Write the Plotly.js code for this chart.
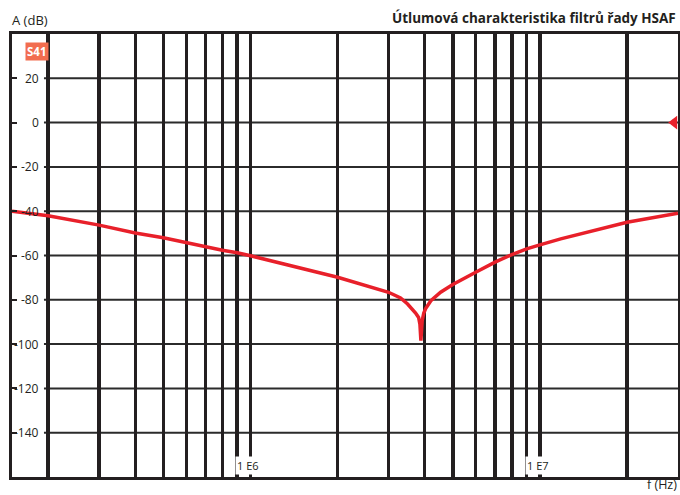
<!DOCTYPE html>
<html>
<head>
<meta charset="utf-8">
<script src="https://cdn.plot.ly/plotly-3.0.1.min.js"></script>
<style>html,body{margin:0;padding:0;background:#fff;}#chart{width:680px;height:495px;}</style>
</head>
<body>
<div id="chart"></div>
<script>
// Frequency (Hz) and attenuation (dB)
var freq = [1.5e5, 2e5, 3e5, 4e5, 5e5, 6e5, 7e5, 8e5, 9e5, 1e6, 2e6, 3e6, 3.3e6, 3.49e6, 3.72e6, 3.81e6, 3.85e6, 3.88e6, 3.92e6, 3.97e6, 4.03e6, 4.2e6, 4.54e6, 5e6, 6e6, 7e6, 8e6, 9e6, 1e7, 1.18e7, 2e7, 3e7];
var atten = [-40, -42.1, -46.3, -49.8, -52, -54.3, -56, -57.6, -58.8, -60.1, -69.8, -76.6, -79.2, -81.9, -86, -88, -91, -98.4, -89.4, -86, -84, -80.4, -76.6, -73.1, -67.6, -63, -59.6, -57, -55.2, -52.5, -45, -40.9];

var yTickVals = [20, 0, -20, -40, -60, -80, -100, -120, -140];
var yTickText = ["20", "0", "-20", "-40", "-60", "-80", "-100", "-120", "-140"];
var xGridVals = [2e5, 3e5, 4e5, 5e5, 6e5, 7e5, 8e5, 9e5, 1e6, 2e6, 3e6, 4e6, 5e6, 6e6, 7e6, 8e6, 9e6, 1e7, 2e7];
var xLabelVals = [1e6, 1e7];
var xLabelText = ["1 E6", "1 E7"];
var markerFreq = [2.91e7];
var markerVal = [0];

var titleText = "Útlumová charakteristika filtrů řady HSAF";
var yTitle = "A (dB)";
var xTitle = "f (Hz)";
var seriesTag = "S41";

var FONT = "Open Sans, Noto Sans, sans-serif";
var INK = "#231f20";
var RED = "#e8202a";

var shapes = yTickVals.map(function (v) {
  return {type: "line", xref: "paper", yref: "y", x0: 0.048, x1: 1, y0: v, y1: v,
          line: {color: "#2b2b2b", width: 2}, layer: "below"};
});

var annotations = yTickVals.map(function (v, i) {
  return {xref: "paper", yref: "y", x: 0.0435, y: v, xanchor: "right", yanchor: "middle",
          text: yTickText[i], showarrow: false, font: {family: FONT, size: 12, color: INK}};
});
xLabelVals.forEach(function (v, i) {
  annotations.push({xref: "x", yref: "paper", x: Math.log10(v), xshift: -2, y: 0.027,
    xanchor: "center", yanchor: "middle", text: xLabelText[i], showarrow: false,
    bgcolor: "#ffffff", borderpad: 1, font: {family: FONT, size: 11, color: INK}});
});
annotations.push({xref: "paper", yref: "paper", x: 1, y: 1.036, xanchor: "right", yanchor: "middle",
  text: "<b>" + titleText + "</b>", showarrow: false, font: {family: FONT, size: 13.5, color: INK}});
annotations.push({xref: "paper", yref: "paper", x: -0.003, y: 1.0316, xanchor: "left", yanchor: "middle",
  text: yTitle, showarrow: false, font: {family: FONT, size: 13, color: INK}});
annotations.push({xref: "paper", yref: "paper", x: 1, y: -0.039, xanchor: "right", yanchor: "bottom",
  text: xTitle, showarrow: false, borderpad: 0, font: {family: FONT, size: 12.5, color: INK}});
annotations.push({xref: "paper", yref: "paper", x: 0.0195, y: 0.961, xanchor: "left", yanchor: "middle",
  text: "<b>" + seriesTag + "</b>", showarrow: false, bgcolor: "#f26d4f", borderpad: 1,
  font: {family: FONT, size: 11.5, color: "#ffffff"}});

var data = [
  {x: freq, y: atten, type: "scatter", mode: "lines", line: {color: RED, width: 3.5}, hoverinfo: "skip"},
  {x: markerFreq, y: markerVal, type: "scatter", mode: "markers", cliponaxis: false,
   marker: {symbol: "triangle-left", size: 12, color: RED}, hoverinfo: "skip"}
];

var layout = {
  width: 680, height: 495,
  margin: {l: 12, r: 2, t: 34, b: 18, pad: 0},
  paper_bgcolor: "#ffffff", plot_bgcolor: "#ffffff",
  showlegend: false,
  xaxis: {type: "log", range: [Math.log10(1.5e5), Math.log10(3e7)], tickmode: "array",
          tickvals: xGridVals, showticklabels: false, ticks: "", showgrid: true,
          gridcolor: INK, gridwidth: 3.5, showline: true, mirror: true, linecolor: INK,
          linewidth: 3, zeroline: false, fixedrange: true},
  yaxis: {range: [-160, 40], tickmode: "array", tickvals: yTickVals, showticklabels: false,
          ticks: "inside", ticklen: 5, tickwidth: 2, tickcolor: INK, showgrid: false,
          showline: true, mirror: true, linecolor: INK, linewidth: 3, zeroline: false, fixedrange: true},
  shapes: shapes,
  annotations: annotations
};

Plotly.newPlot("chart", data, layout, {displayModeBar: false, staticPlot: true});
</script>
</body>
</html>
